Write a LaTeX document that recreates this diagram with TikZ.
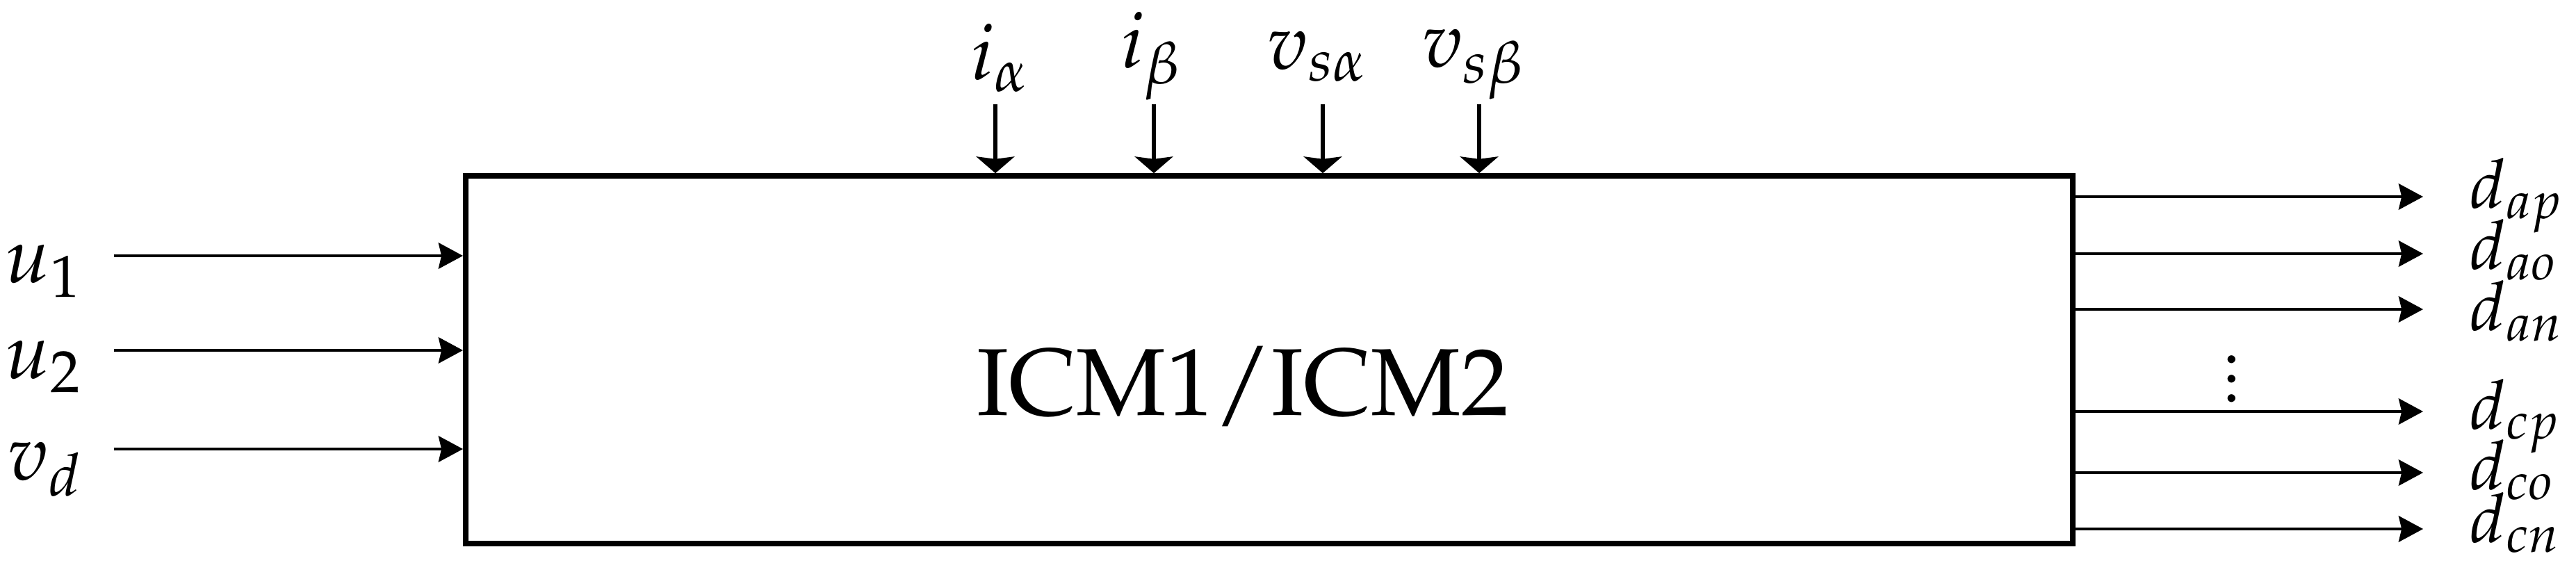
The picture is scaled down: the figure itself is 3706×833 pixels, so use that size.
\documentclass[tikz,border=0pt]{standalone}
\usepackage[T1]{fontenc}
\usepackage{mathpazo}
\usetikzlibrary{arrows.meta}
\tikzset{
  arr/.style={line width=0.7pt,-{Stealth[length=5pt,width=5.3pt,inset=0.6pt]}},
  toparr/.style={line width=0.85pt,-{Stealth[length=3.4pt,width=7.8pt,inset=0.5pt]}},
  blockbox/.style={draw,line width=1.15pt,minimum width=11.57cm,minimum height=2.645cm,inner sep=0pt},
  lab/.style={inner sep=0pt,anchor=base,font=\fontsize{16}{18}\selectfont},
  rlab/.style={inner sep=0pt,anchor=base west,font=\fontsize{14}{16}\selectfont},
}
\begin{document}
\begin{tikzpicture}[x=0.005cm,y=-0.005cm]
\useasboundingbox (0,0) rectangle (3706,833);
\node[blockbox] (icm) at (1826,517.5) {};
\node[inner sep=0pt,anchor=base,font=\fontsize{19.5}{22}\selectfont] (icmtext) at (1788,598) {ICM1/ICM2};
% left inputs
\coordinate (s1) at (164,368);
\coordinate (s2) at (164,504);
\coordinate (s3) at (164,646);
\draw[arr] (s1) -- (s1 -| icm.west);
\draw[arr] (s2) -- (s2 -| icm.west);
\draw[arr] (s3) -- (s3 -| icm.west);
\node[lab] (lu1) at (63,407) {$u_1$};
\node[lab] (lu2) at (63,545) {$u_2$};
\node[lab] (lvd) at (65,690) {$v_d$};
% top inputs
\coordinate (t1) at (1432,150);
\coordinate (t2) at (1660,150);
\coordinate (t3) at (1903,150);
\coordinate (t4) at (2128,150);
\draw[toparr] (t1) -- (t1 |- icm.north);
\draw[toparr] (t2) -- (t2 |- icm.north);
\draw[toparr] (t3) -- (t3 |- icm.north);
\draw[toparr] (t4) -- (t4 |- icm.north);
\node[lab] (lia) at (1439,115) {$i_\alpha$};
\node[lab] (lib) at (1657,98) {$i_\beta$};
\node[lab] (lvsa) at (1896,100) {$v_{s\alpha}$};
\node[lab] (lvsb) at (2120,97) {$v_{s\beta}$};
% right outputs
\coordinate (r1) at (3486,283);
\coordinate (r2) at (3486,365);
\coordinate (r3) at (3486,445);
\coordinate (r4) at (3486,592);
\coordinate (r5) at (3486,680);
\coordinate (r6) at (3486,761);
\draw[arr] (r1 -| icm.east) -- (r1);
\draw[arr] (r2 -| icm.east) -- (r2);
\draw[arr] (r3 -| icm.east) -- (r3);
\draw[arr] (r4 -| icm.east) -- (r4);
\draw[arr] (r5 -| icm.east) -- (r5);
\draw[arr] (r6 -| icm.east) -- (r6);
\node[rlab] (dap) at (3552,300) {$d_{ap}$};
\node[rlab] (dao) at (3552,388) {$d_{ao}$};
\node[rlab] (dan) at (3552,476) {$d_{an}$};
\node[rlab] (dcp) at (3552,617) {$d_{cp}$};
\node[rlab] (dco) at (3552,704) {$d_{co}$};
\node[rlab] (dcn) at (3552,780) {$d_{cn}$};
\node[inner sep=0pt,font=\fontsize{14}{16}\selectfont] (dots) at (3211,524) {$\vdots$};
\end{tikzpicture}
\end{document}
